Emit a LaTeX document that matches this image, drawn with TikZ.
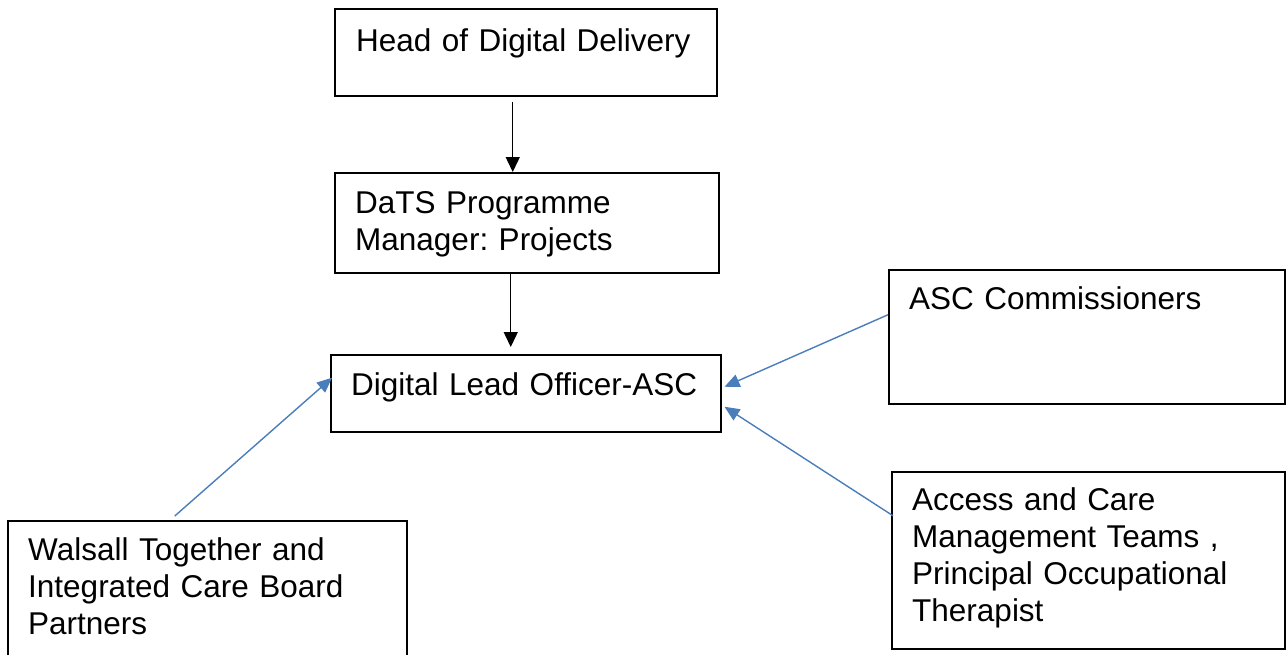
\documentclass[tikz,border=0pt]{standalone}
\usepackage{fontspec}
\setmainfont{Liberation Sans}
\usetikzlibrary{arrows.meta}
\definecolor{arrblue}{HTML}{4A7EBB}
\begin{document}
\frenchspacing
\begin{tikzpicture}[x=1pt,y=-1pt,
  box/.style={draw=black,line width=1.5pt,inner sep=0pt,anchor=north west,rectangle},
  txt/.style={inner sep=0pt,anchor=base west,text width=380pt,align=left,font=\fontsize{31.5}{37.2}\selectfont},
  barr/.style={draw=black,line width=1.4pt,-{Triangle[length=15pt,width=14pt]}},
  blarr/.style={draw=arrblue,line width=1.4pt,-{Triangle[length=15pt,width=13pt]}}]
\useasboundingbox (0,0) rectangle (1286,654);
\node[box,minimum width=382pt,minimum height=87pt] (head) at (334,8) {};
\node[box,minimum width=384pt,minimum height=100pt] (dats) at (334,172) {};
\node[box,minimum width=390pt,minimum height=77pt] (dlo) at (330,354) {};
\node[box,minimum width=396pt,minimum height=134pt] (asc) at (888,269) {};
\node[box,minimum width=393pt,minimum height=177pt] (acm) at (891,471) {};
\node[box,minimum width=399pt,minimum height=140pt] (wal) at (7,520) {};
\node[txt] (headt) at (356,51) {Head of Digital Delivery};
\node[txt] (datst) at (355,213) {DaTS Programme\\Manager: Projects};
\node[txt] (dlot) at (351,395) {Digital Lead Officer-ASC};
\node[txt] (asct) at (909,309) {ASC Commissioners};
\node[txt] (acmt) at (912,510) {Access and Care\\Management Teams ,\\Principal Occupational\\Therapist};
\node[txt] (walt) at (28,560) {Walsall Together and\\Integrated Care Board\\Partners};
\draw[barr] ([xshift=-13pt,yshift=-5pt]head.south) -- ([xshift=-14pt]dats.north);
\draw[barr] ([xshift=-16pt]dats.south) -- ([xshift=-15pt,yshift=7pt]dlo.north);
\draw[blarr] ([xshift=-32.5pt,yshift=4pt]wal.north) -- ([xshift=2pt,yshift=15.5pt]dlo.west);
\draw[blarr] ([yshift=22pt]asc.west) -- ([xshift=3pt,yshift=6.5pt]dlo.east);
\draw[blarr] ([xshift=2pt,yshift=44.5pt]acm.west) -- ([xshift=3pt,yshift=-13.5pt]dlo.east);
\end{tikzpicture}
\end{document}
